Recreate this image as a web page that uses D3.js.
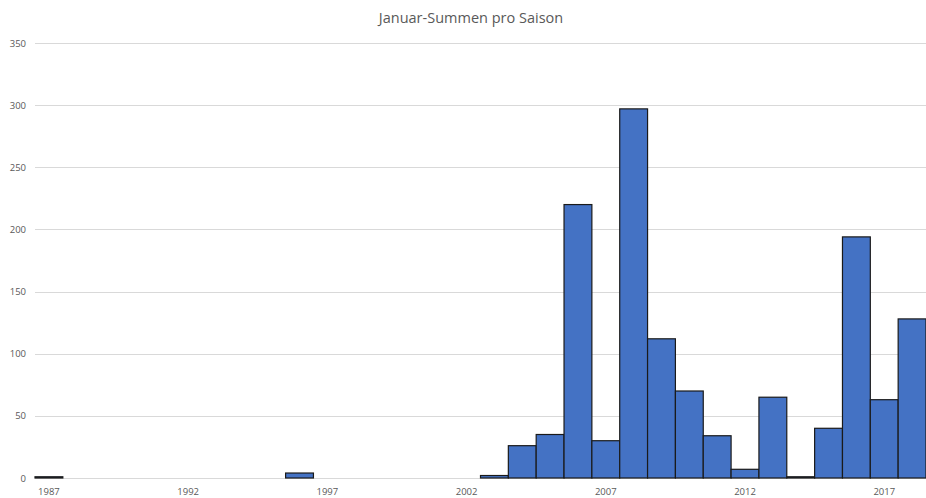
<!DOCTYPE html>
<html>
<head>
<meta charset="utf-8">
<script src="https://cdn.jsdelivr.net/npm/d3@7"></script>
<style>
  html, body { margin: 0; padding: 0; background: #fff; }
  svg { display: block; }
  text { font-family: "Open Sans", "Noto Sans", sans-serif; fill: #595959; }
</style>
</head>
<body>
<svg id="chart" width="926" height="498"></svg>
<script>
// Seasons (January totals per season)
const years = d3.range(1987, 2019);
const values = [
  1, 0, 0, 0, 0, 0, 0, 0, 0, 4,      // 1987–1996
  0, 0, 0, 0, 0, 0, 2, 26, 35, 220,  // 1997–2006
  30, 297, 112, 70, 34, 7, 65, 1, 40, 194, // 2007–2016
  63, 128                            // 2017–2018
];
const yTicks = [0, 50, 100, 150, 200, 250, 300, 350];
const xTickYears = [1987, 1992, 1997, 2002, 2007, 2012, 2017];
const title = "Januar-Summen pro Saison";

const svg = d3.select("#chart");
const W = 926, H = 498;
const margin = { top: 43, right: 0, bottom: 20, left: 35 };

const x = d3.scaleBand()
  .domain(years)
  .range([margin.left, W - margin.right])
  .paddingInner(0)
  .paddingOuter(0);

const y = d3.scaleLinear()
  .domain([0, 350])
  .range([H - margin.bottom, margin.top]);

// Horizontal gridlines
svg.append("g")
  .selectAll("line")
  .data(yTicks)
  .join("line")
  .attr("x1", margin.left)
  .attr("x2", W)
  .attr("y1", d => Math.round(y(d)) + 0.5)
  .attr("y2", d => Math.round(y(d)) + 0.5)
  .attr("stroke", "#d9d9d9")
  .attr("stroke-width", 1);

// Y axis labels
const yAxis = d3.axisLeft(y).tickValues(yTicks).tickSize(0).tickPadding(0);
svg.append("g")
  .attr("transform", `translate(${margin.left - 9},0)`)
  .call(yAxis)
  .call(g => g.select(".domain").remove())
  .call(g => g.selectAll("text")
    .attr("font-size", "9.5px")
    .attr("font-family", "'Open Sans', sans-serif")
    .attr("fill", "#595959"));

// Bars
svg.append("g")
  .selectAll("rect")
  .data(years.map((yr, i) => ({ yr, v: values[i] })).filter(d => d.v > 0))
  .join("rect")
  .attr("x", d => x(d.yr))
  .attr("width", x.bandwidth())
  .attr("y", d => y(d.v))
  .attr("height", d => y(0) - y(d.v))
  .attr("fill", "#4472C4")
  .attr("stroke", "#1a1a1a")
  .attr("stroke-width", 1.2);

// X axis labels
const xAxis = d3.axisBottom(x).tickValues(xTickYears).tickSize(0).tickPadding(0);
svg.append("g")
  .attr("transform", `translate(0,${H - margin.bottom + 10})`)
  .call(xAxis)
  .call(g => g.select(".domain").remove())
  .call(g => g.selectAll("text")
    .attr("font-size", "9.5px")
    .attr("font-family", "'Open Sans', sans-serif")
    .attr("fill", "#595959"));

// Title
svg.append("text")
  .attr("x", 471)
  .attr("y", 23)
  .attr("text-anchor", "middle")
  .attr("font-size", "14.5px")
  .attr("fill", "#595959")
  .text(title);
</script>
</body>
</html>
